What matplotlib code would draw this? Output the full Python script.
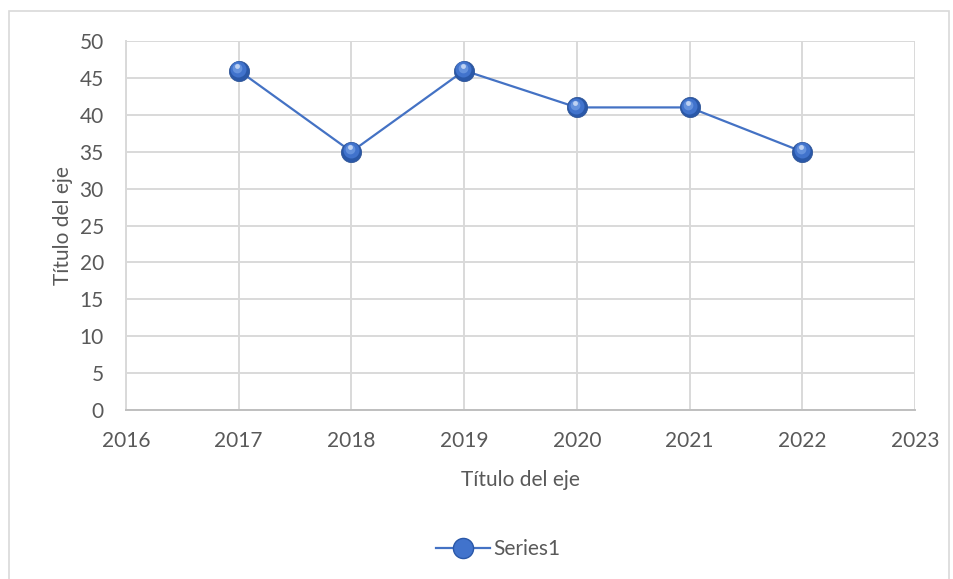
import matplotlib
matplotlib.use("Agg")
import matplotlib.pyplot as plt
from matplotlib.patches import Rectangle
from matplotlib.lines import Line2D
from matplotlib.transforms import offset_copy

# DATOS
years = [2017, 2018, 2019, 2020, 2021, 2022]
values = [46, 35, 46, 41, 41, 35]
x_ticks = [2016, 2017, 2018, 2019, 2020, 2021, 2022, 2023]
y_ticks = [0, 5, 10, 15, 20, 25, 30, 35, 40, 45, 50]

plt.rcParams["font.family"] = ["Lato", "DejaVu Sans"]
TXT = "#595959"
GRID = "#D9D9D9"
BLUE = "#4472C4"
FS = 15

fig = plt.figure(figsize=(9.54, 5.79), dpi=100)
ax = fig.add_axes([126 / 954, 1 - 410 / 579, (915 - 126) / 954, (410 - 41) / 579])

# borde del grafico
fig.patches.append(Rectangle((9 / 954, -0.05), (949 - 9) / 954, 1.05 - 11 / 579,
                             transform=fig.transFigure, fill=False,
                             edgecolor=GRID, linewidth=1.2))

ax.plot(years, values, color=BLUE, linewidth=1.6, zorder=3)

# marcadores tipo esfera
ax.plot(years, values, linestyle="none", marker="o", markersize=14.5,
        markerfacecolor="#2A58A8", markeredgecolor="#2F5597", markeredgewidth=0.6, zorder=4)
t1 = offset_copy(ax.transData, fig=fig, x=-0.5, y=1.0, units="points")
ax.plot(years, values, linestyle="none", marker="o", markersize=11.5,
        markerfacecolor="#4173CC", markeredgewidth=0, transform=t1, zorder=5)
t2 = offset_copy(ax.transData, fig=fig, x=-1.0, y=2.0, units="points")
ax.plot(years, values, linestyle="none", marker="o", markersize=7,
        markerfacecolor="#6A96E0", markeredgewidth=0, alpha=0.9, transform=t2, zorder=6)
t3 = offset_copy(ax.transData, fig=fig, x=-1.0, y=3.2, units="points")
ax.plot(years, values, linestyle="none", marker="o", markersize=3.5,
        markerfacecolor="#D6E3F8", markeredgewidth=0, alpha=0.8, transform=t3, zorder=7)

ax.set_xlim(2016, 2023)
ax.set_ylim(0, 50)
ax.set_xticks(x_ticks)
ax.set_yticks(y_ticks)
ax.grid(True, color=GRID, linewidth=1.4)
ax.set_axisbelow(True)
for s in ["top", "right"]:
    ax.spines[s].set_visible(False)
ax.spines["left"].set_color(GRID)
ax.spines["left"].set_linewidth(1.4)
ax.spines["bottom"].set_color("#BFBFBF")
ax.spines["bottom"].set_linewidth(1.4)
ax.tick_params(axis="both", length=0, labelsize=FS, colors=TXT)
ax.tick_params(axis="y", pad=16)
ax.tick_params(axis="x", pad=15)

ax.set_xlabel("Título del eje", fontsize=FS, color=TXT, labelpad=14)
ax.set_ylabel("Título del eje", fontsize=FS, color=TXT, labelpad=5)

handle = Line2D([], [], color=BLUE, linewidth=1.6, marker="o", markersize=14.5,
                markerfacecolor="#4173CC", markeredgecolor="#2A58A8")
fig.legend([handle], ["Series1"], loc="center", bbox_to_anchor=(498 / 954, 1 - 549 / 579),
           frameon=False, fontsize=FS, labelcolor=TXT, handlelength=2.6, handletextpad=0.15)

fig.savefig("out.png", dpi=100)
